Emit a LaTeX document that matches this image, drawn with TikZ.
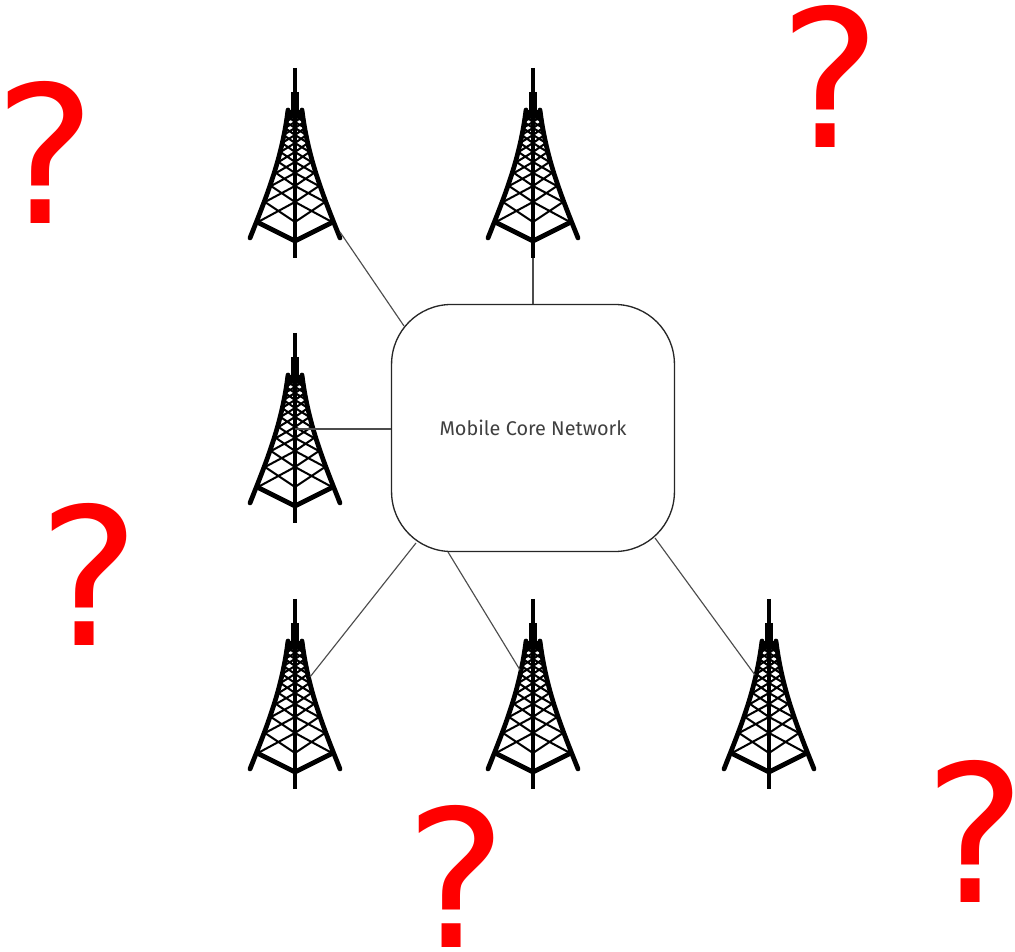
\documentclass[tikz,border=0pt]{standalone}
\usepackage{fontspec}
\setmainfont{Fira Sans}
\newfontfamily\markfont{DejaVu Sans}
\usetikzlibrary{positioning}

\tikzset{
	leg/.style={line width=2.7pt, line cap=round},
	brace/.style={line width=1.15pt},
	link/.style={line width=0.65pt, black!70},
	unknown/.style={inner sep=0pt, text=red, font=\markfont\fontsize{109}{109}\selectfont},
	core/.style={draw=black!85, line width=0.75pt, fill=white, rounded corners=34pt, minimum width=161pt, minimum height=140.6pt, inner sep=0pt, text=black!75, font=\fontsize{11.3}{13}\selectfont},
	tower/.pic={
		\draw[line width=2.4pt] (0, 0) -- (0, 190);
		\draw[line width=4.6pt] (0, 24) -- (0, 44);
		\draw[line width=7pt] (0, 42) -- (0, 50);
		\draw[leg] (-7, 42) .. controls (-13, 90) and (-27, 125) .. (-45, 170);
		\draw[leg] (7, 42) .. controls (13, 90) and (27, 125) .. (45, 170);
		\draw[leg] (-38, 154) -- (0, 173) -- (38, 154);
		\foreach \ya/\wa/\yb/\wb in {48/8/54/9, 54/9/60/10, 60/10/67/11.5, 67/11.5/75/13, 75/13/84/14.5, 84/14.5/94/16.5, 94/16.5/105/19, 105/19/118/24, 118/24/134/30, 134/30/154/37} {
			\draw[brace] (-\wa, \ya) -- (0, \yb) (-\wb, \yb) -- (0, \ya);
			\draw[brace] (\wa, \ya) -- (0, \yb) (\wb, \yb) -- (0, \ya);
		}
	}
}

\begin{document}
\begin{tikzpicture}[x=0.02cm, y=-0.02cm]
	\useasboundingbox (0, 0) rectangle (1015, 952);

	\pic (t1) at (295, 68) {tower};
	\pic (t2) at (533, 68) {tower};
	\pic (t3) at (295, 333) {tower};
	\pic (t4) at (295, 599) {tower};
	\pic (t5) at (533, 599) {tower};
	\pic (t6) at (769, 599) {tower};

	\node[core] (mcn) at (533, 428) {Mobile Core Network};

	% free ends of the links
	\coordinate (a1) at (340, 232);
	\coordinate (b1) at (404, 326);
	\coordinate (a2) at (533, 258);
	\coordinate (b2) at (533, 304);
	\coordinate (a3) at (295, 429);
	\coordinate (b3) at (391, 429);
	\coordinate (a4) at (310, 677);
	\coordinate (b4) at (416, 543);
	\coordinate (a5) at (520, 670);
	\coordinate (b5) at (448, 552);
	\coordinate (a6) at (755, 675);
	\coordinate (b6) at (655, 538);

	\foreach \i in {1, 2, 3, 4, 5, 6}
		\draw[link] (a\i) -- (b\i);

	\node[unknown] (u1) at (45, 152) {?};
	\node[unknown] (u2) at (830, 76) {?};
	\node[unknown] (u3) at (89, 574) {?};
	\node[unknown] (u4) at (456, 876) {?};
	\node[unknown] (u5) at (975, 831) {?};
\end{tikzpicture}
\end{document}
